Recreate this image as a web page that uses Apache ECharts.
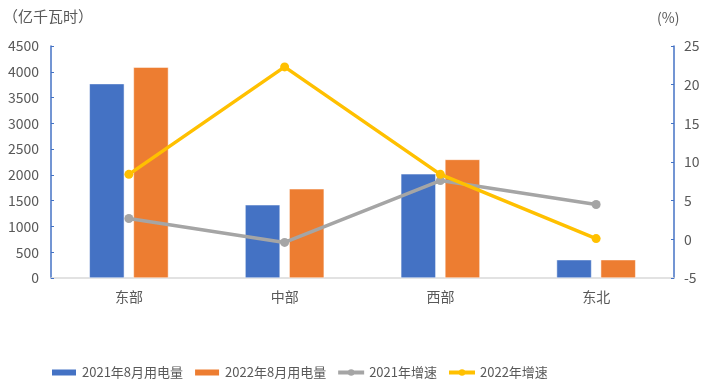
<!DOCTYPE html>
<html><head><meta charset="utf-8">
<script src="https://cdn.jsdelivr.net/npm/echarts@6/dist/echarts.min.js"></script>
<style>html,body{margin:0;padding:0;background:#fff}#c{width:708px;height:391px}</style>
</head><body><div id="c"></div>
<script>
const categories = ['东部', '中部', '西部', '东北'];
const use2021 = [3770, 1420, 2020, 355];
const use2022 = [4090, 1730, 2300, 355];
const growth2021 = [2.7, -0.4, 7.6, 4.5];
const growth2022 = [8.4, 22.3, 8.4, 0.1];
const leftTicks = [0, 4500, 500];
const rightTicks = [-5, 25, 5];

const chart = echarts.init(document.getElementById('c'));
const font = '"Microsoft YaHei","Noto Sans CJK SC",sans-serif';
chart.setOption({
  animation: false,
  textStyle: { fontFamily: font },
  grid: { left: 51, right: 34, top: 46, bottom: 113 },
  title: [
    { text: '（亿千瓦时）', left: -2, top: 4, textStyle: { fontSize: 15, fontWeight: 'normal', color: '#595959', fontFamily: font } },
    { text: '(%)', left: 652, top: 6, textStyle: { fontSize: 14, fontWeight: 'normal', color: '#595959', fontFamily: font } }
  ],
  legend: {
    bottom: 12, left: 50, padding: 0, itemGap: 10, itemWidth: 26, itemHeight: 8,
    textStyle: { color: '#595959', fontSize: 13, fontFamily: font },
    data: [
      { name: '2021年8月用电量', icon: 'rect' },
      { name: '2022年8月用电量', icon: 'rect' },
      { name: '2021年增速', lineStyle: { width: 4 } },
      { name: '2022年增速', lineStyle: { width: 4 } }
    ]
  },
  xAxis: {
    type: 'category', data: categories,
    axisLine: { lineStyle: { color: '#d9d9d9', width: 1.5 } },
    axisTick: { show: false },
    axisLabel: { color: '#595959', fontSize: 14, margin: 12 }
  },
  yAxis: [
    { type: 'value', min: leftTicks[0], max: leftTicks[1], interval: leftTicks[2],
      axisLine: { show: true, lineStyle: { color: '#4472C4', width: 1.5 } },
      axisTick: { show: true, inside: true, length: 3, lineStyle: { color: '#4472C4' } },
      splitLine: { show: false },
      axisLabel: { color: '#595959', fontSize: 14, margin: 12, formatter: v => String(v) } },
    { type: 'value', min: rightTicks[0], max: rightTicks[1], interval: rightTicks[2],
      axisLine: { show: true, lineStyle: { color: '#4472C4', width: 1.5 } },
      axisTick: { show: true, inside: true, length: 3, lineStyle: { color: '#4472C4' } },
      splitLine: { show: false },
      axisLabel: { color: '#595959', fontSize: 14, margin: 10, formatter: v => String(v) } }
  ],
  series: [
    { name: '2021年8月用电量', type: 'bar', data: use2021, barWidth: 35, barGap: '26%',
      itemStyle: { color: '#4472C4', borderColor: '#fff', borderWidth: 0.5 } },
    { name: '2022年8月用电量', type: 'bar', data: use2022, barWidth: 35,
      itemStyle: { color: '#ED7D31', borderColor: '#fff', borderWidth: 0.5 } },
    { name: '2021年增速', type: 'line', yAxisIndex: 1, data: growth2021,
      symbol: 'circle', symbolSize: 9, lineStyle: { color: '#A5A5A5', width: 3.5 },
      itemStyle: { color: '#A5A5A5' } },
    { name: '2022年增速', type: 'line', yAxisIndex: 1, data: growth2022,
      symbol: 'circle', symbolSize: 9, lineStyle: { color: '#FFC000', width: 3.5 },
      itemStyle: { color: '#FFC000' } }
  ]
});
</script></body></html>
